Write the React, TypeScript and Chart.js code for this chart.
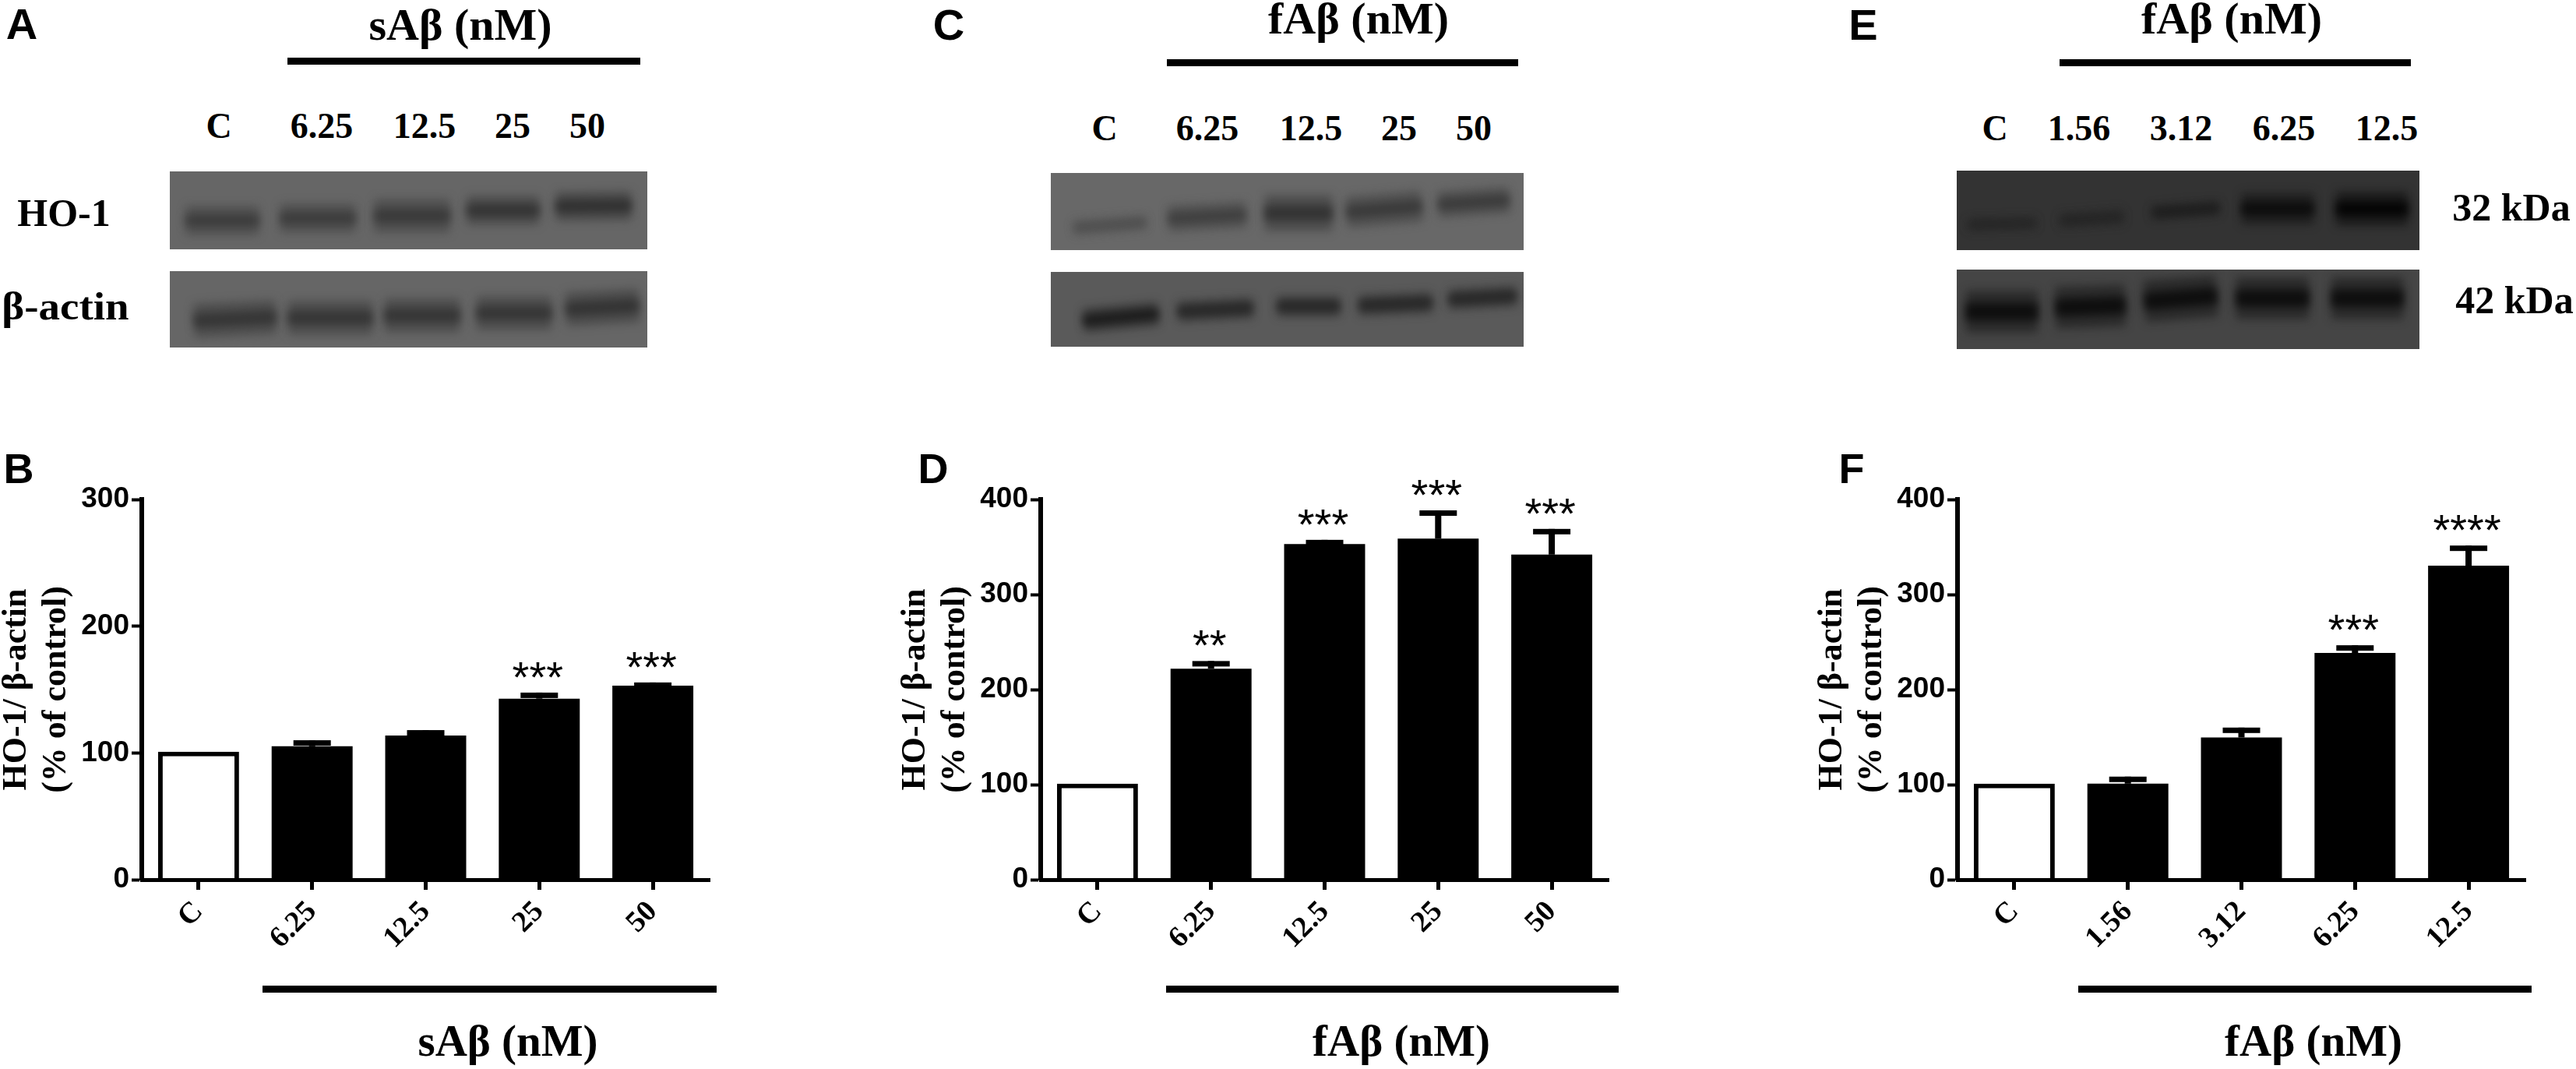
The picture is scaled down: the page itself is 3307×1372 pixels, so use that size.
import React, { useEffect, useRef } from "react";
import { Chart, registerables } from "chart.js";

Chart.register(...registerables);

// ---------- data ----------
const catsB = ["C", "6.25", "12.5", "25", "50"];
const meansB = [101, 105.2, 113.8, 142.8, 153];
const errTopB = [101, 110, 118, 147.6, 155.6];
const starsB = ["", "", "", "***", "***"];

const catsD = ["C", "6.25", "12.5", "25", "50"];
const meansD = [101, 222, 353, 358.8, 342];
const errTopD = [101, 230, 357.5, 388.5, 369];
const starsD = ["", "**", "***", "***", "***"];

const catsF = ["C", "1.56", "3.12", "6.25", "12.5"];
const meansF = [101, 101, 149.6, 238.5, 330.3];
const errTopF = [101, 108.4, 160, 246.6, 351.5];
const starsF = ["", "", "", "***", "****"];

const yTitle = ["HO-1/ β-actin", "(% of control)"];

// Blot bands, in percent of the blot: [x start, y start, x end, y end]
const bandsATop = [[3.4, 63, 18.6, 63], [23.2, 60, 38.8, 60], [42.9, 57, 58.6, 57], [62.3, 50, 77.3, 50], [80.9, 45, 96.6, 44]];
const bandsABottom = [[5.1, 65, 22.2, 60], [24.8, 61, 42.4, 61], [45, 58, 60.7, 58], [64.3, 55, 79.9, 55], [83, 50, 98.2, 45]];
const bandsCTop = [[4.9, 71, 20.1, 64], [24.9, 59, 41.2, 54], [45.3, 52, 59.5, 52], [62.6, 51, 78.4, 43], [82, 41, 96.9, 35]];
const bandsCBottom = [[6.9, 65, 22.7, 56], [26.9, 53, 42.7, 48], [47.9, 46, 61.1, 46], [65.2, 45, 80.6, 41], [84.2, 37, 98.4, 32]];
const bandsETop = [[2.5, 68, 17, 66], [22.4, 63, 35.9, 58], [42.3, 53, 56.7, 47], [61.6, 48, 77.1, 48], [82, 48, 97.5, 48]];
const bandsEBottom = [[2, 53, 17.5, 53], [21.4, 48, 36.4, 45], [40.6, 40, 56.2, 33], [60.4, 36, 76.1, 36], [81, 36, 96.5, 36]];

// ---------- layout / style ----------
const BLACK = "#000000";
const SERIF = "'Liberation Serif', serif";
const SANS = "'Liberation Sans', sans-serif";

const BLOTS = [
  { left: 218, top: 220, w: 613, h: 100, bg: "#666666", bands: bandsATop, shade: ["#3c3c3c", "#3c3c3c", "#3a3a3a", "#333333", "#303030"], thick: [22, 22, 26, 22, 22] },
  { left: 218, top: 348, w: 613, h: 98, bg: "#666666", bands: bandsABottom, shade: ["#363636", "#363636", "#363636", "#363636", "#343434"], thick: [26, 26, 26, 26, 26] },
  { left: 1349, top: 222, w: 607, h: 99, bg: "#686868", bands: bandsCTop, shade: ["#4a4a4a", "#3e3e3e", "#333333", "#3a3a3a", "#3a3a3a"], thick: [11, 20, 28, 24, 20] },
  { left: 1349, top: 349, w: 607, h: 96, bg: "#5a5a5a", bands: bandsCBottom, shade: ["#181818", "#222222", "#222222", "#222222", "#222222"], thick: [18, 16, 16, 16, 16] },
  { left: 2512, top: 219, w: 594, h: 102, bg: "#333333", bands: bandsETop, shade: ["#222222", "#222222", "#1a1a1a", "#0c0c0c", "#050505"], thick: [9, 11, 11, 24, 26] },
  { left: 2512, top: 346, w: 594, h: 102, bg: "#454545", bands: bandsEBottom, shade: ["#0e0e0e", "#0e0e0e", "#0e0e0e", "#0e0e0e", "#0e0e0e"], thick: [32, 32, 32, 32, 32] },
];

const PLOT_TOP = 641;
const PLOT_H = 488;
const CAT_W = 145.8;
const PAD_TOP = 40;
const PAD_RIGHT = 10;
const Y_BOX = 192;
const X_BOX = 200;

const PANELS = [
  { plotLeft: 182, yMax: 300, cats: catsB, means: meansB, errTop: errTopB, stars: starsB },
  { plotLeft: 1336, yMax: 400, cats: catsD, means: meansD, errTop: errTopD, stars: starsD },
  { plotLeft: 2513, yMax: 400, cats: catsF, means: meansF, errTop: errTopF, stars: starsF },
];

type L = { t: string; x: number; y: number; s: number; sx?: number; sans?: boolean };
const LABELS: L[] = [
  { t: "A", x: 28, y: 50, s: 56, sans: true },
  { t: "B", x: 24, y: 620, s: 54, sans: true },
  { t: "C", x: 1218, y: 51, s: 56, sans: true },
  { t: "D", x: 1198, y: 620, s: 54, sans: true },
  { t: "E", x: 2392, y: 51, s: 56, sans: true },
  { t: "F", x: 2377, y: 620, s: 54, sans: true },
  { t: "sAβ (nM)", x: 591, y: 52, s: 58 },
  { t: "fAβ (nM)", x: 1744, y: 44, s: 58 },
  { t: "fAβ (nM)", x: 2865, y: 44, s: 58 },
  { t: "sAβ (nM)", x: 652, y: 1355, s: 57 },
  { t: "fAβ (nM)", x: 1799, y: 1355, s: 57 },
  { t: "fAβ (nM)", x: 2970, y: 1355, s: 57 },
  { t: "C", x: 281, y: 178, s: 46 },
  { t: "6.25", x: 413, y: 178, s: 46 },
  { t: "12.5", x: 545, y: 178, s: 46 },
  { t: "25", x: 658, y: 178, s: 46 },
  { t: "50", x: 754, y: 178, s: 46 },
  { t: "C", x: 1418, y: 181, s: 46 },
  { t: "6.25", x: 1550, y: 181, s: 46 },
  { t: "12.5", x: 1683, y: 181, s: 46 },
  { t: "25", x: 1796, y: 181, s: 46 },
  { t: "50", x: 1892, y: 181, s: 46 },
  { t: "C", x: 2561, y: 181, s: 46 },
  { t: "1.56", x: 2669, y: 181, s: 46 },
  { t: "3.12", x: 2800, y: 181, s: 46 },
  { t: "6.25", x: 2932, y: 181, s: 46 },
  { t: "12.5", x: 3064, y: 181, s: 46 },
  { t: "HO-1", x: 82, y: 290, s: 50 },
  { t: "β-actin", x: 84, y: 410, s: 50, sx: 1.1 },
  { t: "32 kDa", x: 3224, y: 283, s: 50 },
  { t: "42 kDa", x: 3228, y: 402, s: 50 },
];

const RULES = [
  { x0: 369, x1: 822, y: 74, h: 9 },
  { x0: 1498, x1: 1949, y: 76, h: 9 },
  { x0: 2644, x1: 3095, y: 76, h: 9 },
  { x0: 337, x1: 920, y: 1265, h: 9 },
  { x0: 1497, x1: 2078, y: 1265, h: 9 },
  { x0: 2668, x1: 3250, y: 1265, h: 9 },
];

// ---------- plugins ----------
const errorPlugin = {
  id: "errorAndStars",
  afterDatasetsDraw(chart: any) {
    const ds = chart.data.datasets[0];
    const meta = chart.getDatasetMeta(0);
    const yS = chart.scales.y;
    const ctx = chart.ctx;
    ctx.save();
    ctx.fillStyle = BLACK;
    ds.means.forEach((m: number, i: number) => {
      const x = meta.data[i].x;
      const yTop = yS.getPixelForValue(ds.errTop[i]);
      const yBase = yS.getPixelForValue(m);
      if (ds.errTop[i] > m) {
        ctx.fillRect(x - 4, yTop, 8, yBase - yTop);
        ctx.fillRect(x - 24, yTop, 48, 7);
      }
      if (ds.stars[i]) {
        ctx.font = `56px ${SANS}`;
        ctx.textAlign = "center";
        ctx.textBaseline = "alphabetic";
        ctx.fillText(ds.stars[i], x - 2, yTop - 1);
      }
    });
    ctx.restore();
  },
};

const blotPlugin = {
  id: "blotLook",
  beforeDraw(chart: any) {
    const { ctx, width, height } = chart;
    ctx.save();
    ctx.fillStyle = chart.options.plugins.blotLook.bg;
    ctx.fillRect(0, 0, width, height);
    ctx.restore();
  },
  beforeDatasetsDraw(chart: any) {
    chart.ctx.save();
    chart.ctx.filter = "blur(6px)";
  },
  afterDatasetsDraw(chart: any) {
    chart.ctx.restore();
  },
};

function BarPanel({ p }: { p: (typeof PANELS)[number] }) {
  const ref = useRef<HTMLCanvasElement | null>(null);
  useEffect(() => {
    const chart = new Chart(ref.current as HTMLCanvasElement, {
      type: "bar",
      plugins: [errorPlugin],
      data: {
        labels: p.cats,
        datasets: [
          {
            data: p.means,
            means: p.means,
            errTop: p.errTop,
            stars: p.stars,
            backgroundColor: p.means.map((_, i) => (i === 0 ? "#ffffff" : BLACK)),
            borderColor: BLACK,
            borderWidth: p.means.map((_, i) => (i === 0 ? 6 : 0)),
            barPercentage: 0.713,
            categoryPercentage: 1,
          } as any,
        ],
      },
      options: {
        animation: false,
        responsive: false,
        maintainAspectRatio: false,
        layout: { padding: { top: PAD_TOP, right: PAD_RIGHT, left: 0, bottom: 0 } },
        plugins: { legend: { display: false }, tooltip: { enabled: false }, title: { display: false } },
        scales: {
          x: {
            afterFit: (s: any) => { s.height = X_BOX; },
            grid: { drawOnChartArea: false, drawTicks: true, tickLength: 13, tickWidth: 5, tickColor: BLACK, offset: false },
            border: { display: true, width: 5, color: BLACK, z: 1 },
            ticks: {
              autoSkip: false, minRotation: 45, maxRotation: 45, padding: 6, color: BLACK,
              font: { family: SERIF, weight: "bold", size: 38 },
            },
          },
          y: {
            min: 0,
            max: p.yMax,
            afterFit: (s: any) => { s.width = Y_BOX; },
            grid: { drawOnChartArea: false, drawTicks: true, tickLength: 13, tickWidth: 4, tickColor: BLACK },
            border: { display: true, width: 6, color: BLACK },
            ticks: { stepSize: 100, padding: 3, color: BLACK, font: { family: SANS, weight: "bold", size: 37 } },
            title: {
              display: true,
              text: yTitle,
              color: BLACK,
              padding: { top: 7, bottom: 0 },
              font: { family: SERIF, weight: "bold", size: 44, lineHeight: 1.14 },
            },
          },
        },
      } as any,
    });
    return () => chart.destroy();
  }, []);
  const W = Y_BOX + CAT_W * 5 + PAD_RIGHT;
  const H = PAD_TOP + PLOT_H + X_BOX;
  return (
    <canvas
      ref={ref}
      width={W}
      height={H}
      style={{ position: "absolute", left: p.plotLeft - Y_BOX, top: PLOT_TOP - PAD_TOP, width: W, height: H, display: "block" }}
    />
  );
}

function Blot({ b }: { b: (typeof BLOTS)[number] }) {
  const ref = useRef<HTMLCanvasElement | null>(null);
  useEffect(() => {
    const datasets: any[] = [];
    b.bands.forEach((band, i) => {
      const pts = [{ x: band[0], y: band[1] }, { x: band[2], y: band[3] }];
      datasets.push({ data: pts, borderColor: b.shade[i] + "77", borderWidth: b.thick[i] * 1.7, pointRadius: 0, borderCapStyle: "butt" });
      datasets.push({ data: pts, borderColor: b.shade[i], borderWidth: b.thick[i] * 0.7, pointRadius: 0, borderCapStyle: "butt" });
    });
    const chart = new Chart(ref.current as HTMLCanvasElement, {
      type: "line",
      plugins: [blotPlugin],
      data: { datasets },
      options: {
        animation: false,
        responsive: false,
        maintainAspectRatio: false,
        layout: { padding: 0 },
        plugins: { legend: { display: false }, tooltip: { enabled: false }, blotLook: { bg: b.bg } },
        scales: {
          x: { type: "linear", min: 0, max: 100, display: false },
          y: { type: "linear", min: 0, max: 100, reverse: true, display: false },
        },
      } as any,
    });
    return () => chart.destroy();
  }, []);
  return (
    <canvas
      ref={ref}
      width={b.w}
      height={b.h}
      style={{ position: "absolute", left: b.left, top: b.top, width: b.w, height: b.h, display: "block" }}
    />
  );
}

function Label({ l }: { l: L }) {
  const baseK = l.sans ? 0.8465 : 0.8375;
  return (
    <div
      style={{
        position: "absolute",
        left: l.x,
        top: l.y - l.s * baseK,
        transform: `translateX(-50%) scaleX(${l.sx ?? 1})`,
        fontFamily: l.sans ? SANS : SERIF,
        fontWeight: 700,
        fontSize: l.s,
        lineHeight: 1,
        whiteSpace: "nowrap",
        color: BLACK,
      }}
    >
      {l.t}
    </div>
  );
}

export default function App() {
  return (
    <div style={{ position: "fixed", left: 0, top: 0, width: 3307, height: 1372, overflow: "hidden", background: "#ffffff" }}>
      {BLOTS.map((b, i) => <Blot key={i} b={b} />)}
      {PANELS.map((p, i) => <BarPanel key={i} p={p} />)}
      {RULES.map((r, i) => (
        <div key={i} style={{ position: "absolute", left: r.x0, top: r.y, width: r.x1 - r.x0, height: r.h, background: BLACK }} />
      ))}
      {LABELS.map((l, i) => <Label key={i} l={l} />)}
    </div>
  );
}
